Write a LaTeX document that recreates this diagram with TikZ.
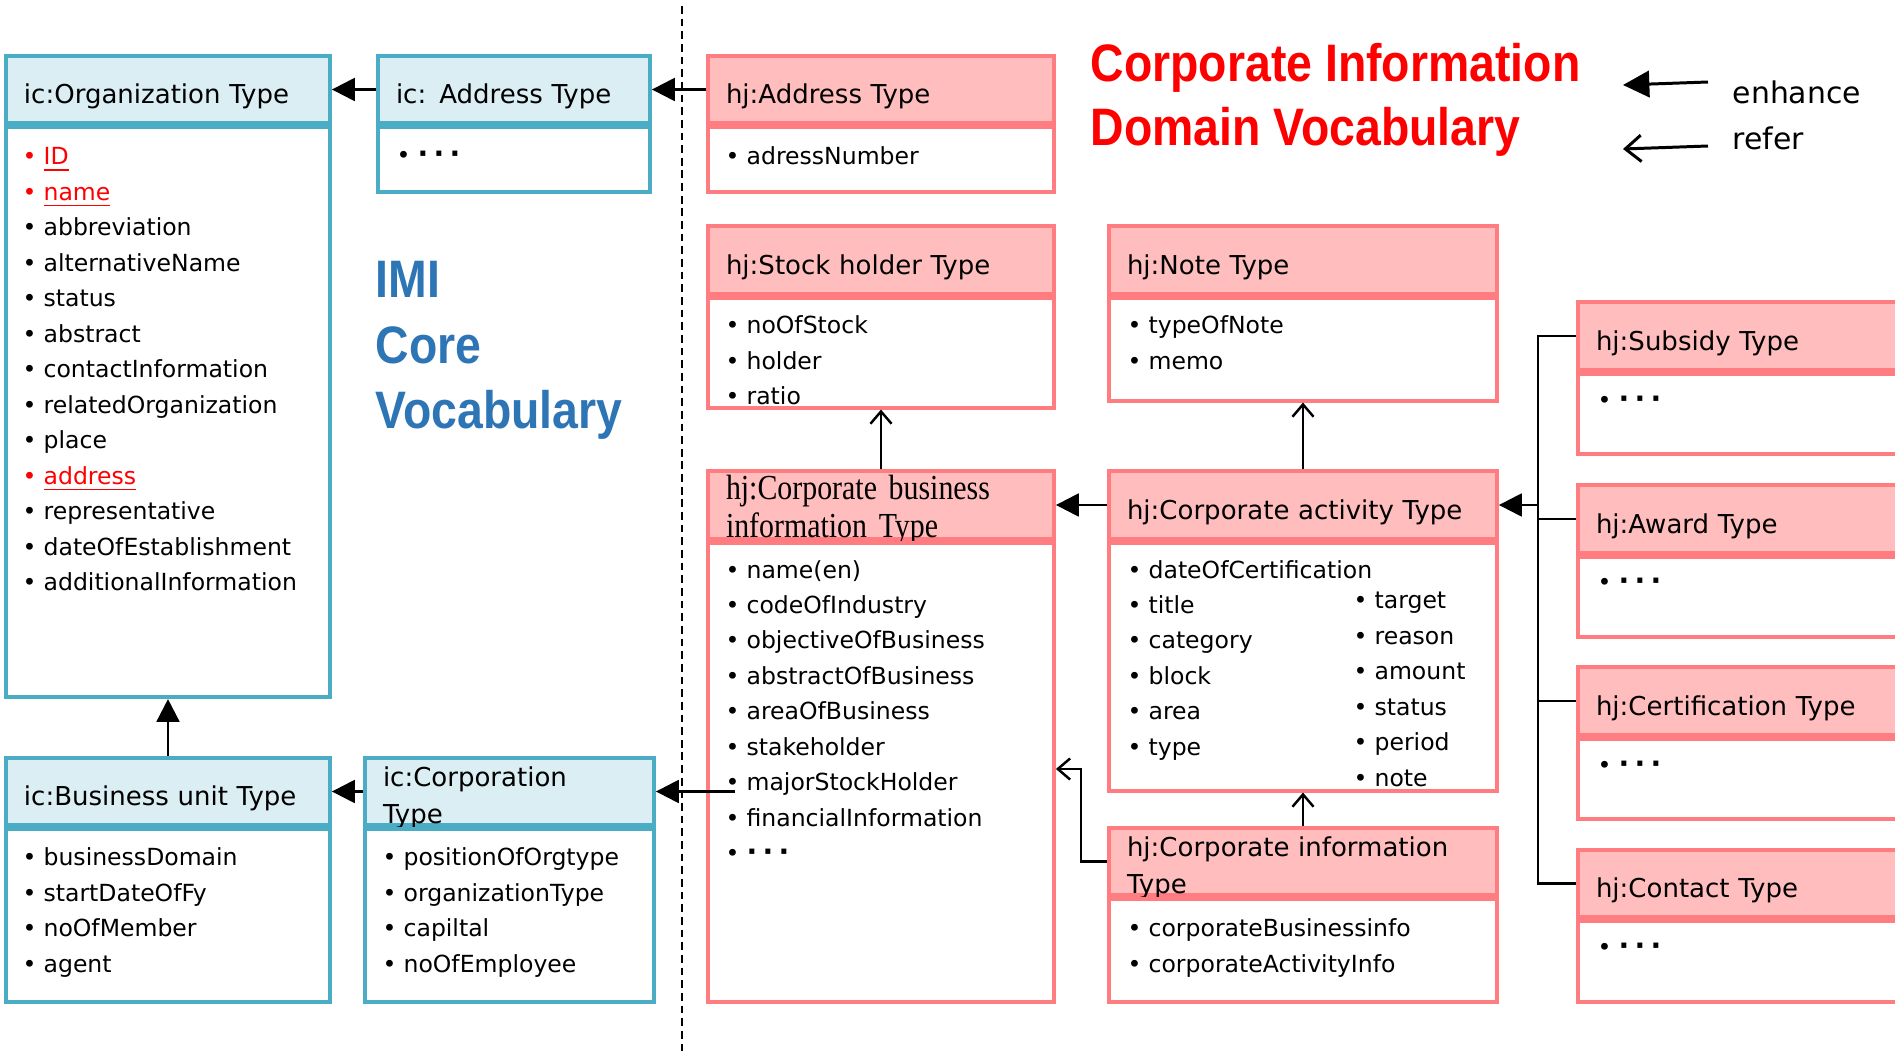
\documentclass[tikz,border=0pt]{standalone}
\usepackage{fontspec}
\setmainfont{DejaVu Sans}
\newfontfamily\titleface[FakeStretch=0.88]{Liberation Sans}
\newfontfamily\minchoface[FakeStretch=0.85]{Liberation Serif}
\usetikzlibrary{positioning,arrows.meta}

\definecolor{icfill}{HTML}{DAEEF3}
\definecolor{icline}{HTML}{4BACC6}
\definecolor{hjfill}{HTML}{FFBDBD}
\definecolor{hjline}{HTML}{FF7C80}
\definecolor{keyred}{HTML}{FF0000}
\definecolor{imiblue}{HTML}{2E75B6}

\newcommand{\itm}{\textbullet\hspace{2pt}}
\newcommand{\keyitem}[1]{\textcolor{keyred}{\itm\underline{#1}}}
\newcommand{\moredots}{\itm{\fontsize{8}{10}\selectfont\textbf{·\hspace{1.5pt}·\hspace{1.5pt}·}}}

\begin{document}
\begin{tikzpicture}[
head/.style={rectangle,line width=1.1pt,minimum height=0.675cm,inner xsep=0.18cm,inner ysep=0pt,text width=#1,text height=0.4825cm,text depth=0.1925cm,align=left,font=\fontsize{7.4}{10.4}\selectfont},
icHead/.style={head=#1,draw=icline,fill=icfill},
hjHead/.style={head=#1,draw=hjline,fill=hjfill},
twoLine/.style={text height=0.2875cm,text depth=0.3875cm},
icBody/.style={rectangle,draw=icline,line width=1.1pt,inner sep=0pt},
hjBody/.style={rectangle,draw=hjline,line width=1.1pt,inner sep=0pt},
items/.style={anchor=base west,inner sep=0pt,text width=3cm,align=left,font=\fontsize{6.7}{10.1}\selectfont},
enhance/.style={line width=0.7pt,-{Triangle[length=6.5pt,width=6.5pt]}},
refers/.style={line width=0.7pt,-{Straight Barb[length=3.5pt,width=6pt]}},
busLine/.style={line width=0.7pt},
bigtitle/.style={anchor=base west,inner sep=0pt,font=\titleface\fontsize{15}{18}\selectfont\bfseries}]
\useasboundingbox (0,0) rectangle (18.95,-10.54);
\clip (0,0) rectangle (18.95,-10.54);

% IMI core vocabulary
\node[icHead=2.88cm] (orgH) at (1.68,-0.895) {ic:Organization Type};
\node[icBody,minimum width=3.24cm,minimum height=5.70cm,below=0pt of orgH] (orgB) {};
\node[items] (orgL) at (0.22,-1.65) {\keyitem{ID}\\\keyitem{name}\\\itm abbreviation\\\itm alternativeName\\\itm status\\\itm abstract\\\itm contactInformation\\\itm relatedOrganization\\\itm place\\\keyitem{address}\\\itm representative\\\itm dateOfEstablishment\\\itm additionalInformation};

\node[icHead=2.36cm] (icAddrH) at (5.14,-0.895) {ic: Address Type};
\node[icBody,minimum width=2.72cm,minimum height=0.65cm,below=0pt of icAddrH] (icAddrB) {};
\node[items] (icAddrL) at (3.96,-1.64) {\moredots};

\node[icHead=2.88cm] (buH) at (1.68,-7.915) {ic:Business unit Type};
\node[icBody,minimum width=3.24cm,minimum height=1.73cm,below=0pt of buH] (buB) {};
\node[items] (buL) at (0.22,-8.66) {\itm businessDomain\\\itm startDateOfFy\\\itm noOfMember\\\itm agent};

\node[icHead=2.53cm,twoLine] (corpH) at (5.095,-7.915) {ic:Corporation\\Type};
\node[icBody,minimum width=2.89cm,minimum height=1.73cm,below=0pt of corpH] (corpB) {};
\node[items] (corpL) at (3.82,-8.66) {\itm positionOfOrgtype\\\itm organizationType\\\itm capiltal\\\itm noOfEmployee};

\node[bigtitle,text=imiblue] (imiA) at (3.75,-2.98) {IMI};
\node[bigtitle,text=imiblue] (imiB) at (3.75,-3.64) {Core};
\node[bigtitle,text=imiblue] (imiC) at (3.75,-4.29) {Vocabulary};

\draw[line width=0.6pt,dash pattern=on 2.2pt off 1.4pt] (6.82,-0.06) -- (6.82,-10.54);

% corporate information domain vocabulary
\node[hjHead=3.10cm] (hjAddrH) at (8.81,-0.895) {hj:Address Type};
\node[hjBody,minimum width=3.46cm,minimum height=0.65cm,below=0pt of hjAddrH] (hjAddrB) {};
\node[items] (hjAddrL) at (7.25,-1.65) {\itm adressNumber};

\node[hjHead=3.10cm] (stockH) at (8.81,-2.60) {hj:Stock holder Type};
\node[hjBody,minimum width=3.46cm,minimum height=1.10cm,below=0pt of stockH] (stockB) {};
\node[items] (stockL) at (7.25,-3.34) {\itm noOfStock\\\itm holder\\\itm ratio};

\node[hjHead=3.52cm] (noteH) at (13.03,-2.60) {hj:Note Type};
\node[hjBody,minimum width=3.88cm,minimum height=1.03cm,below=0pt of noteH] (noteB) {};
\node[items] (noteL) at (11.27,-3.34) {\itm typeOfNote\\\itm memo};

\node[hjHead=3.10cm,twoLine,font=\minchoface\fontsize{10}{10.6}\selectfont] (cbiH) at (8.81,-5.05) {hj:Corporate business\\information Type};
\node[hjBody,minimum width=3.46cm,minimum height=4.59cm,below=0pt of cbiH] (cbiB) {};
\node[items] (cbiL) at (7.25,-5.78) {\itm name(en)\\\itm codeOfIndustry\\\itm objectiveOfBusiness\\\itm abstractOfBusiness\\\itm areaOfBusiness\\\itm stakeholder\\\itm majorStockHolder\\\itm financialInformation\\\moredots};

\node[hjHead=3.52cm] (cactH) at (13.03,-5.05) {hj:Corporate activity Type};
\node[hjBody,minimum width=3.88cm,minimum height=2.48cm,below=0pt of cactH] (cactB) {};
\node[items,text width=2.6cm] (cactL) at (11.27,-5.78) {\itm dateOfCertification\\\itm title\\\itm category\\\itm block\\\itm area\\\itm type};
\node[items,text width=1.2cm] (cactR) at (13.53,-6.09) {\itm target\\\itm reason\\\itm amount\\\itm status\\\itm period\\\itm note};

\node[hjHead=3.52cm,twoLine] (cinfoH) at (13.03,-8.615) {hj:Corporate information\\Type};
\node[hjBody,minimum width=3.88cm,minimum height=1.03cm,below=0pt of cinfoH] (cinfoB) {};
\node[items] (cinfoL) at (11.27,-9.37) {\itm corporateBusinessinfo\\\itm corporateActivityInfo};

\node[hjHead=3.16cm] (subH) at (17.54,-3.36) {hj:Subsidy Type};
\node[hjBody,minimum width=3.52cm,minimum height=0.80cm,below=0pt of subH] (subB) {};
\node[items] (subL) at (15.97,-4.09) {\moredots};

\node[hjHead=3.16cm] (awardH) at (17.54,-5.19) {hj:Award Type};
\node[hjBody,minimum width=3.52cm,minimum height=0.80cm,below=0pt of awardH] (awardB) {};
\node[items] (awardL) at (15.97,-5.91) {\moredots};

\node[hjHead=3.16cm] (certH) at (17.54,-7.01) {hj:Certification Type};
\node[hjBody,minimum width=3.52cm,minimum height=0.80cm,below=0pt of certH] (certB) {};
\node[items] (certL) at (15.97,-7.74) {\moredots};

\node[hjHead=3.16cm] (contactH) at (17.54,-8.835) {hj:Contact Type};
\node[hjBody,minimum width=3.52cm,minimum height=0.81cm,below=0pt of contactH] (contactB) {};
\node[items] (contactL) at (15.97,-9.56) {\moredots};

\node[bigtitle,text=keyred] (titleA) at (10.90,-0.82) {Corporate Information};
\node[bigtitle,text=keyred] (titleB) at (10.90,-1.46) {Domain Vocabulary};

% legend
\coordinate (enhTail) at (17.08,-0.82);
\coordinate (enhTip) at (16.23,-0.85);
\coordinate (refTail) at (17.08,-1.46);
\coordinate (refTip) at (16.23,-1.49);
\draw[enhance,line width=0.85pt,-{Triangle[length=7.5pt,width=7.5pt]}] (enhTail) -- (enhTip);
\draw[refers,line width=0.85pt,-{Straight Barb[length=4.5pt,width=7.5pt]}] (refTail) -- (refTip);
\node[anchor=base west,inner sep=0pt,font=\fontsize{8.5}{10}\selectfont] (enhT) at (17.32,-1.04) {enhance};
\node[anchor=base west,inner sep=0pt,font=\fontsize{8.5}{10}\selectfont] (refT) at (17.32,-1.50) {refer};

% connectors
\draw[enhance] (icAddrH.west) -- (orgH.east);
\draw[enhance] (hjAddrH.west) -- (icAddrH.east);
\draw[enhance] (buH.north) -- (orgB.south);
\draw[enhance] (corpH.west) -- (buH.east);
\coordinate (mshBullet) at (7.35,-7.915);
\draw[enhance] (mshBullet) -- (corpH.east);
\draw[refers] (cbiH.north) -- (stockB.south);
\draw[enhance] (cactH.west) -- (cbiH.east);
\draw[refers] (cactH.north) -- (noteB.south);
\draw[refers] (cinfoH.north) -- (cactB.south);
\coordinate (infoBend) at (10.81,-7.69);
\draw[refers] (cinfoH.west) -| (infoBend) -- (cbiB.east |- infoBend);
\coordinate (busJoin) at (15.38,-5.05);
\draw[busLine] (subH.west) -| (busJoin);
\draw[busLine] (awardH.west) -| (busJoin);
\draw[busLine] (certH.west) -| (busJoin);
\draw[busLine] (contactH.west) -| (busJoin);
\draw[enhance] (busJoin) -- (cactH.east);
\end{tikzpicture}
\end{document}
